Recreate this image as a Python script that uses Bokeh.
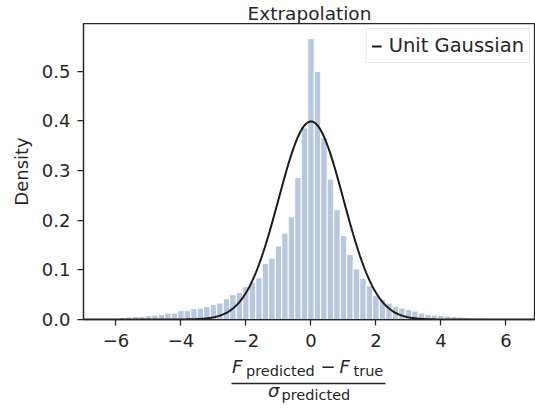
import numpy as np
from bokeh.plotting import figure
from bokeh.layouts import column
from bokeh.models import (FixedTicker, Legend, LegendItem, Range1d,
                          CustomJSTickFormatter, PrintfTickFormatter)
from bokeh.core.properties import value
from bokeh.embed import file_html
from bokeh.resources import INLINE

# ---------------- data ----------------
bin_centers = [-6.4, -6.2, -6.0, -5.8, -5.6, -5.4, -5.2, -5.0, -4.8, -4.6,
               -4.4, -4.2, -4.0, -3.8, -3.6, -3.4, -3.2, -3.0, -2.8, -2.6,
               -2.4, -2.2, -2.0, -1.8, -1.6, -1.4, -1.2, -1.0, -0.8, -0.6,
               -0.4, -0.2, 0.0, 0.2, 0.4, 0.6, 0.8, 1.0, 1.2, 1.4,
               1.6, 1.8, 2.0, 2.2, 2.4, 2.6, 2.8, 3.0, 3.2, 3.4,
               3.6, 3.8, 4.0, 4.2, 4.4, 4.6, 4.8, 5.0, 5.2, 5.4,
               5.6, 5.8, 6.0, 6.2]
density = [0.001, 0.001, 0.002, 0.004, 0.005, 0.006, 0.006, 0.008, 0.009, 0.010,
           0.013, 0.013, 0.018, 0.018, 0.022, 0.023, 0.026, 0.030, 0.033, 0.042,
           0.050, 0.055, 0.066, 0.075, 0.084, 0.113, 0.124, 0.148, 0.174, 0.207,
           0.286, 0.386, 0.566, 0.500, 0.367, 0.283, 0.221, 0.169, 0.131, 0.102,
           0.083, 0.068, 0.048, 0.041, 0.033, 0.026, 0.023, 0.020, 0.017, 0.013,
           0.010, 0.009, 0.008, 0.007, 0.006, 0.005, 0.004, 0.003, 0.003, 0.002,
           0.002, 0.001, 0.001, 0.001]
bin_width = 0.2

x_ticks = [-6, -4, -2, 0, 2, 4, 6]
y_ticks = [0.0, 0.1, 0.2, 0.3, 0.4, 0.5]

title_text = "Extrapolation"
y_label = "Density"
legend_label = "Unit Gaussian"

# theoretical unit Gaussian pdf (the reference curve)
gx = np.linspace(-7, 7, 561)
gy = np.exp(-0.5 * gx ** 2) / np.sqrt(2 * np.pi)

# ---------------- styling ----------------
INK = "#262626"
FONT = "DejaVu Sans"
BAR = "#b7c7df"

W = 535
ML, MR = 83, 0
MAIN_H = 356
LABEL_H = 408 - MAIN_H
BASE_SHIFT = 0.36  # em; compensates the renderer's baseline placement

# ---------------- main plot ----------------
MT, MB = 22, 37
p = figure(width=W, height=MAIN_H, output_backend="svg", toolbar_location=None,
           x_range=Range1d(-7.0, 6.908), y_range=Range1d(0.0, 0.5964),
           min_border_left=ML, min_border_right=MR, min_border_top=MT,
           min_border_bottom=MB, background_fill_color="white",
           border_fill_color="white", title=title_text)
p.title.align = "center"
p.title.text_font = FONT
p.title.text_font_size = "18.5px"
p.title.text_font_style = "normal"
p.title.text_color = INK
p.title.standoff = 0
p.title.offset = 0
p.xgrid.visible = False
p.ygrid.visible = False
p.outline_line_color = INK
p.outline_line_width = 1.25

p.vbar(x=bin_centers, top=density, width=bin_width, bottom=0,
       fill_color=BAR, line_color="white", line_width=1)
r = p.line(gx, gy, line_color="#1a1a1a", line_width=2)

for ax in (p.xaxis[0], p.yaxis[0]):
    ax.axis_line_color = INK
    ax.axis_line_width = 1.25
    ax.major_tick_line_color = INK
    ax.major_tick_line_width = 1.25
    ax.major_tick_out = 6
    ax.major_tick_in = 0
    ax.minor_tick_out = 0
    ax.minor_tick_in = 0
    ax.major_label_text_font = FONT
    ax.major_label_text_font_size = "18px"
    ax.major_label_text_color = INK

p.xaxis.ticker = FixedTicker(ticks=x_ticks)
p.xaxis.formatter = CustomJSTickFormatter(
    code="return tick < 0 ? '\u2212' + Math.abs(tick) : String(tick);")
p.xaxis.major_label_standoff = 8
p.yaxis.ticker = FixedTicker(ticks=y_ticks)
p.yaxis.formatter = PrintfTickFormatter(format="%.1f")
p.yaxis.major_label_standoff = 7
p.yaxis.axis_label = y_label
p.yaxis.axis_label_text_font = FONT
p.yaxis.axis_label_text_font_size = "18px"
p.yaxis.axis_label_text_font_style = "normal"
p.yaxis.axis_label_text_color = INK
p.yaxis.axis_label_standoff = 7

legend = Legend(items=[LegendItem(label=legend_label, renderers=[r])],
                location="top_right", margin=5, padding=5, spacing=0,
                glyph_width=10, glyph_height=22, label_standoff=7,
                label_height=22, label_text_font=FONT,
                label_text_font_size="19.5px", label_text_color=INK,
                label_text_baseline="middle",
                border_line_color="#cccccc", border_line_width=1,
                background_fill_color="white", background_fill_alpha=0.8)
p.add_layout(legend)

# ---------------- x-axis label strip: (F_predicted - F_true) / sigma_predicted ----------------
top = MAIN_H
lab = figure(width=W, height=LABEL_H, output_backend="svg", toolbar_location=None,
             x_range=Range1d(ML, W - MR), y_range=Range1d(top + LABEL_H, top),
             x_axis_type=None, y_axis_type=None,
             min_border_left=ML, min_border_right=MR, min_border_top=0,
             min_border_bottom=0, outline_line_color=None,
             background_fill_color="white", border_fill_color="white")
lab.title.visible = False
lab.xgrid.visible = False
lab.ygrid.visible = False


def put_text(s, x, baseline, size_px, italic=False):
    lab.text(x=[x], y=[baseline - BASE_SHIFT * size_px], text=[s],
             text_font=value(FONT), text_font_size=value(f"{size_px}px"),
             text_font_style=value("italic" if italic else "normal"),
             text_color=INK, text_align="left", text_baseline="alphabetic")


put_text("F", 231.5, 372.5, 18, italic=True)
put_text("predicted", 245.5, 376, 14.5)
put_text("\u2212", 320, 372.5, 18)
put_text("F", 339, 372.5, 18, italic=True)
put_text("true", 353, 376, 14.5)
put_text("\u03c3", 267.5, 396.5, 18, italic=True)
put_text("predicted", 281, 400, 14.5)
lab.segment(x0=[231], y0=[383], x1=[385], y1=[383], line_color=INK, line_width=1.4)

layout = column(p, lab, spacing=0)
open("out.html", "w").write(file_html(layout, INLINE))
